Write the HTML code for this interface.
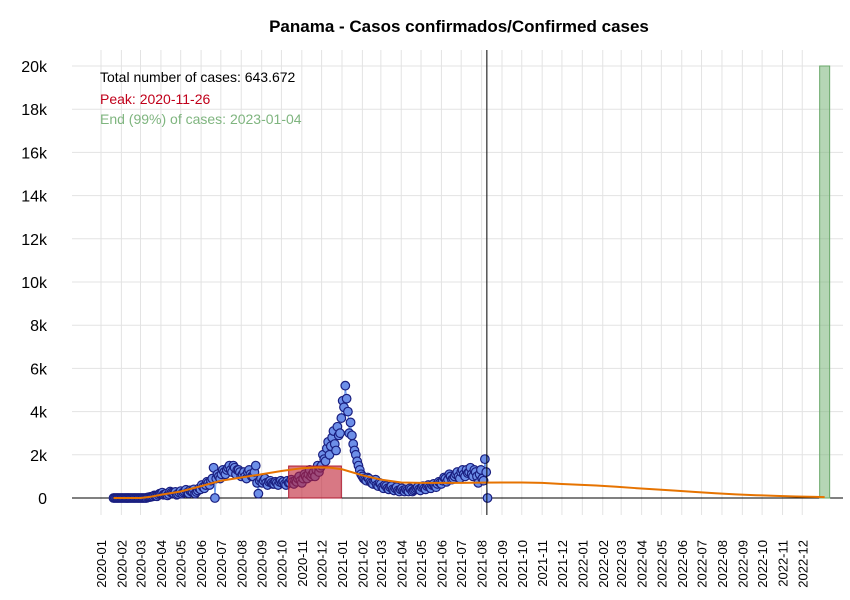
<!DOCTYPE html>
<html><head><meta charset="utf-8"><style>
body{margin:0;background:#fff;font-family:"Liberation Sans",sans-serif}
svg{display:block}
</style></head><body>
<svg id="chart" width="850" height="600" font-family="Liberation Sans, sans-serif">
<rect width="850" height="600" fill="#fff"/>
<text x="459" y="32" text-anchor="middle" font-size="17" font-weight="bold">Panama - Casos confirmados/Confirmed cases</text>
<g id="grid"></g>
<g id="yaxis"></g>
<g id="xaxis"></g>
<g id="marks"></g>
<text x="100" y="82" font-size="14" fill="#000">Total number of cases: 643.672</text>
<text x="100" y="104" font-size="14" fill="#c0001a">Peak: 2020-11-26</text>
<text x="100" y="124" font-size="14" fill="#7fb57f">End (99%) of cases: 2023-01-04</text>
</svg>
<script>
const yTicks = [0,2000,4000,6000,8000,10000,12000,14000,16000,18000,20000];
const yTickLabels = ["0","2k","4k","6k","8k","10k","12k","14k","16k","18k","20k"];
const monthLabels = ["2020-01","2020-02","2020-03","2020-04","2020-05","2020-06","2020-07","2020-08","2020-09","2020-10","2020-11","2020-12","2021-01","2021-02","2021-03","2021-04","2021-05","2021-06","2021-07","2021-08","2021-09","2021-10","2021-11","2021-12","2022-01","2022-02","2022-03","2022-04","2022-05","2022-06","2022-07","2022-08","2022-09","2022-10","2022-11","2022-12"];
const caseStart = "2020-01-20";
const caseStepDays = 4;
const cases = [0,0,0,0,0,0,0,0,0,0,0,0,0,
30,50,80,100,150,200,150,200,180,250,200,150,250,200,300,250,350,300,200,350,400,500,600,700,800,1400,900,1000,1100,1200,1300,1500,1200,1400,1300,1200,1100,1000,1200,1100,1000,1500,200,900,800,700,750,700,650,700,750,700,650,800,700,750,800,900,800,900,1000,1100,1000,1200,1300,1200,1500,1800,2300,2000,2800,2500,3300,3000,4500,5200,4000,3500,2500,2000,1500,1100,900,800,900,700,800,600,700,500,600,450,500,400,450,350,400,350,400,300,400,350,450,400,500,450,550,500,600,550,650,700,800,900,850,1000,900,1100,1000,1200,1100,1300,1200,1100,1300,1000,1100,900,1800,0];
const casesBStart = "2020-01-22";
const casesB = [0,0,0,0,0,0,0,0,0,0,0,0,0,
40,60,120,80,200,250,180,120,300,220,280,180,320,260,380,220,300,400,280,450,600,450,750,600,900,0,1100,900,1300,1100,1400,1300,1500,1100,1300,1000,1200,900,1300,1000,1200,700,800,700,900,600,800,650,750,600,800,750,600,700,850,650,750,1000,700,1100,900,1300,1100,1000,1500,1400,2000,1700,2600,2400,3100,2200,2900,3700,4200,4600,3000,2900,2200,1700,1300,1000,850,950,750,650,850,550,650,450,550,400,550,350,500,300,450,300,350,450,300,400,500,350,550,400,600,450,650,500,750,650,950,750,1100,850,1000,1200,900,1300,1000,1150,1400,1000,1200,700,1300,800,1200];
const fitDates = ["2020-01-20","2020-03-01","2020-03-15","2020-04-01","2020-05-01","2020-06-01","2020-07-01","2020-08-01","2020-09-01","2020-10-01","2020-11-01","2020-11-26","2020-12-15","2021-01-01","2021-02-01","2021-03-01","2021-04-01","2021-05-01","2021-06-01","2021-07-01","2021-08-01","2021-09-01","2021-10-01","2021-11-01","2021-12-01","2022-01-22","2022-02-22","2022-03-22","2022-04-22","2022-05-22","2022-06-22","2022-07-22","2022-08-22","2022-09-22","2022-10-22","2022-11-22","2022-12-22","2023-01-04"];
const fitValues = [0,0,50,150,300,550,800,950,1100,1250,1380,1420,1400,1330,1050,850,720,700,700,700,710,720,720,700,650,580,520,460,400,340,280,220,170,130,100,70,50,40];
const peakStart = "2020-10-12", peakEnd = "2020-12-31", peakValue = 1480;
const endDate = "2023-01-04", endValue = 20000;
const todayDate = "2021-08-09";

const NS="http://www.w3.org/2000/svg";
const X0=72,X1=843,Y0=50,Y1=515;
const day0=Date.UTC(2020,0,1);
function days(s){const p=s.split("-").map(Number);return (Date.UTC(p[0],p[1]-1,p[2]||1)-day0)/86400000;}
function xs(d){return 101+d*(241/366);}
function ys(v){return 498-v*(432/20000);}
function mk(tag,attrs,parent){const e=document.createElementNS(NS,tag);for(const k in attrs)e.setAttribute(k,attrs[k]);parent.appendChild(e);return e;}
const grid=document.getElementById('grid'),ya=document.getElementById('yaxis'),xa=document.getElementById('xaxis'),marks=document.getElementById('marks');
yTicks.forEach((t,i)=>{
  const l=mk('line',{x1:X0,x2:X1,y1:ys(t),y2:ys(t),stroke:'#e3e3e3','stroke-width':1},grid);
  
  
  const tx=mk('text',{x:47,y:ys(t)+6,'text-anchor':'end','font-size':16},ya);
  tx.textContent=yTickLabels[i];
  
  
});
monthLabels.forEach(m=>{
  const x=xs(days(m+"-01"));
  const l=mk('line',{x1:x,x2:x,y1:Y0,y2:Y1,stroke:'#e3e3e3','stroke-width':1},grid);
  
  
  const tx=mk('text',{x:0,y:0,'text-anchor':'end','font-size':13,transform:`translate(${x+5},540) rotate(-90)`},xa);
  tx.textContent=m;
  
  
});
const zl=mk('line',{x1:X0,x2:X1,y1:ys(0),y2:ys(0),stroke:'#000','stroke-width':1},marks);


const px1=xs(days(peakStart)),px2=xs(days(peakEnd));
const ex=xs(days(endDate));
const eb=mk('rect',{x:ex-5,y:ys(endValue),width:10,height:ys(0)-ys(endValue),fill:'rgba(120,180,120,0.55)',stroke:'#6aa86a','stroke-width':1},marks);


// case points
const csA=days(caseStart), csB=days(casesBStart);
let pts=cases.map((v,i)=>[csA+i*caseStepDays,v]).concat(casesB.map((v,i)=>[csB+i*caseStepDays,v]));
pts.sort((a,b)=>a[0]-b[0]);
const pl=mk('polyline',{points:pts.map(p=>xs(p[0])+','+ys(p[1])).join(' '),fill:'none',stroke:'#6495ED','stroke-width':1},marks);


pts.forEach(p=>{
  const c=mk('circle',{cx:xs(p[0]),cy:ys(p[1]),r:4.3,fill:'#6d8fe8',stroke:'#1a1f80','stroke-width':1.2},marks);
  
  
});
const pr=mk('rect',{x:px1,y:ys(peakValue),width:px2-px1,height:ys(0)-ys(peakValue),fill:'rgba(190,30,50,0.6)',stroke:'#b01a30','stroke-width':1},marks);


const fp=fitDates.map((d,i)=>xs(days(d))+','+ys(fitValues[i])).join(' ');
const fl=mk('polyline',{points:fp,fill:'none',stroke:'#e67300','stroke-width':2},marks);


const tdx=xs(days(todayDate));
const tl=mk('line',{x1:tdx,x2:tdx,y1:Y0,y2:Y1,stroke:'#000','stroke-width':1},marks);


</script>
</body></html>
